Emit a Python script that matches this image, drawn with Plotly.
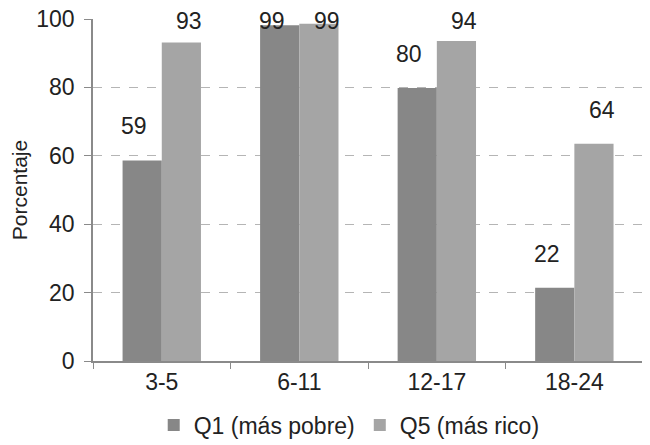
import plotly.graph_objects as go

categories = ["3-5", "6-11", "12-17", "18-24"]
q1_values = [58.6, 98.2, 79.8, 21.4]
q5_values = [93.1, 98.6, 93.6, 63.5]
q1_labels = ["59", "99", "80", "22"]
q5_labels = ["93", "99", "94", "64"]
y_ticks = [0, 20, 40, 60, 80, 100]

FONT = "Liberation Sans, Arial, sans-serif"
C_Q1 = "#878787"
C_Q5 = "#a5a5a5"

fig = go.Figure()
fig.add_trace(go.Bar(x=categories, y=q1_values, name="Q1 (más pobre)",
                     marker=dict(color=C_Q1, line=dict(width=0))))
fig.add_trace(go.Bar(x=categories, y=q5_values, name="Q5 (más rico)",
                     marker=dict(color=C_Q5, line=dict(width=0))))

# value labels above bars (clamped near the top of the axis)
for i, c in enumerate(categories):
    for vals, labs, off in ((q1_values, q1_labels, -0.2), (q5_values, q5_labels, 0.2)):
        fig.add_annotation(x=i + off, y=min(vals[i] + 10, 99.4), xref="x", yref="y",
                           text=labs[i], showarrow=False, yanchor="middle",
                           font=dict(family=FONT, size=23, color="#222"))

fig.update_layout(
    width=642, height=437,
    margin=dict(l=85, r=0, t=11, b=84, autoexpand=False),
    paper_bgcolor="white", plot_bgcolor="white",
    barmode="group", bargap=0.43, bargroupgap=0,
    font=dict(family=FONT, size=23, color="#222"),
    showlegend=True,
    legend=dict(orientation="h", x=0.46, xanchor="center", y=-0.187, yanchor="middle",
                font=dict(family=FONT, size=23, color="#222"),
                itemwidth=30, tracegroupgap=0, bgcolor="rgba(0,0,0,0)"),
)
fig.update_xaxes(
    type="category", range=[-0.5, 3.55], automargin=False,
    showline=True, linecolor="#8a8a8a", linewidth=1.5,
    ticks="outside", tickson="boundaries", ticklen=6, tickcolor="#8a8a8a",
    showgrid=False, tickfont=dict(family=FONT, size=23, color="#222"),
)
fig.update_yaxes(
    range=[0, 100], tickvals=y_ticks, automargin=False,
    showline=True, linecolor="#8a8a8a", linewidth=1.5,
    ticks="outside", ticklen=7, tickcolor="#8a8a8a", ticklabelstandoff=5,
    ticklabeloverflow="allow",
    showgrid=True, gridcolor="#b5b5b5", griddash="dash", gridwidth=1,
    zeroline=False,
    title=dict(text="Porcentaje", font=dict(family=FONT, size=21, color="#222"), standoff=14),
    tickfont=dict(family=FONT, size=23, color="#222"),
)

fig.write_html("out.html")
